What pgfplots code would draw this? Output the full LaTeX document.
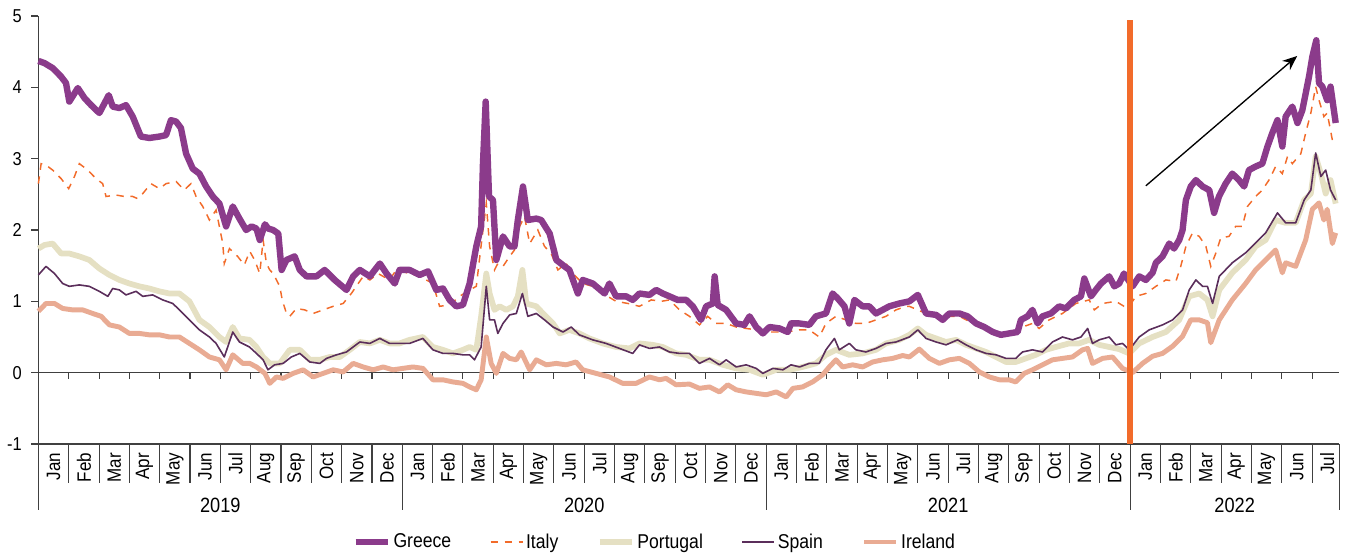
\documentclass[border=0pt]{standalone}
\usepackage{fontspec}
\setmainfont{Liberation Sans}[FakeStretch=0.88]
\usepackage{pgfplots}
\usepackage{pgfplotstable}
\pgfplotsset{compat=1.18}
\usetikzlibrary{arrows.meta}

\definecolor{greece}{HTML}{8B3B8B}
\definecolor{italy}{HTML}{F26B2A}
\definecolor{portugal}{HTML}{E5E0C3}
\definecolor{spain}{HTML}{5B2E5B}
\definecolor{ireland}{HTML}{E9AB93}
\definecolor{axisgray}{HTML}{404040}

% x = months since Jan 2019, y = spread
\pgfplotstableread{
x y
0.00 4.37
0.20 4.34
0.47 4.27
0.75 4.15
0.91 4.06
1.02 3.80
1.30 3.99
1.52 3.85
1.74 3.75
2.01 3.64
2.32 3.89
2.45 3.73
2.67 3.71
2.89 3.75
3.11 3.59
3.38 3.31
3.66 3.29
3.99 3.31
4.21 3.33
4.37 3.54
4.54 3.52
4.70 3.43
4.87 3.07
5.09 2.86
5.31 2.79
5.53 2.61
5.75 2.47
5.97 2.37
6.19 2.05
6.41 2.33
6.63 2.16
6.85 2.00
7.03 2.05
7.19 2.02
7.30 1.86
7.47 2.08
7.58 2.02
7.74 2.00
7.91 1.95
8.02 1.44
8.18 1.58
8.45 1.63
8.62 1.44
8.84 1.35
9.17 1.35
9.44 1.44
9.77 1.30
10.16 1.16
10.38 1.35
10.60 1.44
10.93 1.35
11.26 1.53
11.48 1.39
11.75 1.25
11.91 1.44
12.24 1.44
12.57 1.37
12.85 1.42
13.12 1.16
13.34 1.18
13.56 1.02
13.78 0.93
14.00 0.95
14.22 1.25
14.44 1.77
14.60 2.05
14.66 2.93
14.75 3.80
14.86 2.47
14.99 2.42
15.10 1.58
15.32 1.91
15.54 1.77
15.70 1.77
15.81 2.14
15.98 2.61
16.14 2.14
16.42 2.16
16.58 2.14
16.86 1.95
17.08 1.58
17.35 1.49
17.51 1.44
17.79 1.11
17.95 1.30
18.28 1.25
18.67 1.11
18.83 1.25
19.05 1.07
19.38 1.07
19.60 1.02
19.82 1.11
20.15 1.09
20.37 1.16
20.59 1.11
20.81 1.07
21.08 1.02
21.36 1.02
21.58 0.93
21.85 0.74
22.02 0.93
22.24 0.97
22.30 1.35
22.40 0.95
22.68 0.88
23.01 0.69
23.28 0.67
23.45 0.79
23.67 0.64
23.89 0.55
24.11 0.64
24.44 0.62
24.71 0.57
24.82 0.69
25.09 0.69
25.42 0.67
25.64 0.79
25.97 0.83
26.19 1.11
26.36 1.04
26.58 0.93
26.74 0.69
26.91 1.02
27.18 0.93
27.40 0.93
27.62 0.83
27.84 0.88
28.06 0.93
28.39 0.97
28.72 1.00
29.00 1.09
29.27 0.83
29.60 0.81
29.82 0.74
30.04 0.83
30.37 0.83
30.64 0.79
30.92 0.69
31.19 0.64
31.47 0.57
31.74 0.53
32.01 0.55
32.29 0.57
32.40 0.74
32.62 0.79
32.78 0.88
32.95 0.69
33.11 0.79
33.39 0.83
33.66 0.93
33.88 0.90
34.16 1.02
34.38 1.07
34.49 1.32
34.71 1.07
34.87 1.16
35.04 1.25
35.31 1.35
35.48 1.21
35.64 1.25
35.80 1.39
36.08 1.21
36.30 1.35
36.52 1.30
36.74 1.40
36.85 1.54
37.07 1.63
37.29 1.81
37.45 1.74
37.62 1.86
37.73 2.00
37.84 2.42
38.00 2.61
38.17 2.70
38.39 2.61
38.61 2.56
38.77 2.24
38.93 2.47
39.15 2.65
39.37 2.79
39.59 2.70
39.76 2.61
39.92 2.84
40.14 2.89
40.36 2.93
40.53 3.17
40.69 3.36
40.86 3.54
41.02 3.17
41.13 3.59
41.35 3.73
41.52 3.50
41.68 3.68
41.90 4.15
42.01 4.43
42.14 4.66
42.23 4.06
42.34 4.01
42.50 3.82
42.61 4.01
42.78 3.50
}\greecedata

\pgfplotstableread{
x y
0.00 2.65
0.09 2.93
0.25 2.91
0.47 2.84
0.75 2.72
1.00 2.58
1.19 2.75
1.35 2.93
1.63 2.84
1.90 2.72
2.12 2.65
2.23 2.47
2.56 2.49
2.84 2.47
3.11 2.47
3.27 2.44
3.44 2.51
3.71 2.65
3.99 2.58
4.21 2.65
4.54 2.68
4.81 2.56
5.03 2.65
5.20 2.47
5.42 2.33
5.64 2.14
5.86 2.28
6.08 1.81
6.13 1.53
6.30 1.74
6.57 1.63
6.79 1.51
6.97 1.70
7.13 1.58
7.30 1.39
7.41 1.86
7.52 1.53
7.63 1.44
7.74 1.39
7.96 1.21
8.04 1.02
8.18 0.83
8.29 0.79
8.51 0.90
8.78 0.88
9.06 0.83
9.39 0.88
9.72 0.93
10.05 0.97
10.32 1.11
10.71 1.35
10.93 1.30
11.20 1.39
11.58 1.30
11.80 1.44
12.24 1.39
12.57 1.35
13.01 1.25
13.23 0.93
13.56 0.95
13.89 1.07
14.22 1.16
14.44 1.21
14.66 2.00
14.77 2.37
14.88 1.77
15.04 1.44
15.15 1.53
15.32 1.49
15.54 1.63
15.70 1.72
15.87 2.05
16.03 2.19
16.20 1.81
16.47 2.00
16.69 1.77
16.91 1.67
17.13 1.44
17.40 1.53
17.62 1.39
17.95 1.25
18.28 1.21
18.61 1.11
19.05 1.00
19.44 0.97
19.82 0.93
20.21 1.02
20.54 1.00
20.81 1.02
21.14 0.88
21.47 0.79
21.80 0.67
22.07 0.79
22.35 0.69
22.68 0.69
23.01 0.64
23.34 0.62
23.67 0.60
24.00 0.57
24.33 0.57
24.66 0.57
25.09 0.60
25.42 0.60
25.75 0.50
25.97 0.69
26.30 0.79
26.63 0.74
26.96 0.69
27.29 0.69
27.62 0.74
27.95 0.79
28.28 0.88
28.61 0.93
28.72 0.93
29.27 0.83
29.82 0.79
30.37 0.79
30.92 0.67
31.47 0.57
32.01 0.53
32.45 0.64
32.78 0.69
33.00 0.62
33.33 0.74
33.77 0.83
34.21 0.97
34.65 1.02
34.82 0.88
35.09 0.97
35.53 1.00
35.80 0.93
35.97 0.93
36.19 1.07
36.52 1.11
36.85 1.21
37.18 1.30
37.51 1.28
37.67 1.49
37.84 1.77
38.06 1.96
38.28 1.91
38.50 1.77
38.66 1.49
38.83 1.68
38.99 1.89
39.26 1.91
39.48 2.05
39.70 2.05
39.87 2.33
40.14 2.47
40.36 2.56
40.58 2.70
40.80 2.89
41.02 2.79
41.19 3.03
41.35 2.93
41.63 3.07
41.79 3.36
41.96 3.64
42.12 4.01
42.23 3.82
42.39 3.59
42.50 3.64
42.67 3.26
42.78 3.22
}\italydata

\pgfplotstableread{
x y
0.00 1.74
0.20 1.79
0.47 1.81
0.75 1.67
1.02 1.67
1.35 1.63
1.68 1.58
2.01 1.46
2.34 1.37
2.67 1.30
3.00 1.25
3.33 1.21
3.66 1.18
3.99 1.14
4.32 1.11
4.65 1.11
4.98 1.00
5.31 0.74
5.64 0.64
5.97 0.50
6.19 0.43
6.41 0.64
6.63 0.48
6.96 0.46
7.19 0.36
7.41 0.22
7.63 0.13
7.96 0.13
8.29 0.32
8.62 0.32
8.95 0.18
9.28 0.18
9.61 0.22
9.94 0.22
10.27 0.32
10.60 0.43
10.93 0.41
11.26 0.46
11.58 0.41
11.91 0.41
12.24 0.46
12.68 0.50
13.01 0.36
13.34 0.32
13.67 0.27
14.00 0.32
14.22 0.36
14.44 0.32
14.60 0.79
14.77 1.39
14.88 1.11
15.04 0.88
15.21 0.93
15.43 0.88
15.65 0.93
15.81 1.07
15.96 1.44
16.09 0.97
16.42 0.93
16.64 0.83
16.97 0.69
17.19 0.55
17.51 0.60
17.84 0.55
18.17 0.48
18.61 0.41
19.05 0.36
19.49 0.34
19.82 0.41
20.26 0.39
20.59 0.36
21.03 0.27
21.36 0.25
21.80 0.18
22.13 0.18
22.57 0.11
23.01 0.06
23.45 0.04
23.89 -0.03
24.33 0.04
24.77 0.04
25.20 0.08
25.64 0.13
25.97 0.25
26.30 0.32
26.74 0.25
27.18 0.27
27.62 0.32
27.95 0.41
28.39 0.46
28.72 0.53
29.00 0.62
29.27 0.53
29.60 0.48
29.93 0.43
30.26 0.46
30.59 0.39
30.92 0.34
31.25 0.29
31.58 0.22
31.91 0.15
32.23 0.15
32.56 0.20
32.89 0.25
33.22 0.32
33.55 0.36
33.99 0.41
34.32 0.41
34.65 0.46
34.98 0.39
35.31 0.36
35.64 0.33
35.97 0.27
36.30 0.41
36.74 0.50
37.18 0.57
37.62 0.74
37.95 1.07
38.28 1.11
38.55 1.02
38.72 0.79
38.94 1.16
39.37 1.40
39.81 1.58
40.14 1.77
40.47 1.86
40.80 2.14
41.13 2.10
41.46 2.10
41.74 2.42
41.96 2.51
42.12 3.03
42.29 2.79
42.45 2.51
42.61 2.70
42.78 2.37
}\portugaldata

\pgfplotstableread{
x y
0.00 1.37
0.25 1.49
0.53 1.39
0.80 1.25
1.02 1.21
1.35 1.23
1.68 1.21
2.01 1.14
2.29 1.07
2.45 1.18
2.67 1.16
2.89 1.09
3.22 1.14
3.44 1.07
3.77 1.09
4.10 1.02
4.43 0.97
4.65 0.88
4.98 0.74
5.31 0.60
5.64 0.50
5.86 0.41
6.13 0.22
6.41 0.57
6.63 0.43
6.96 0.36
7.19 0.27
7.41 0.18
7.57 0.04
7.79 0.11
8.07 0.13
8.34 0.22
8.62 0.27
8.95 0.15
9.28 0.13
9.50 0.20
9.83 0.25
10.16 0.29
10.38 0.36
10.60 0.43
10.93 0.41
11.26 0.48
11.58 0.41
11.91 0.41
12.24 0.41
12.68 0.48
13.01 0.32
13.34 0.27
13.67 0.27
14.00 0.25
14.22 0.25
14.38 0.18
14.60 0.36
14.77 1.21
14.88 0.74
15.04 0.74
15.15 0.55
15.32 0.69
15.54 0.81
15.76 0.83
15.96 1.11
16.14 0.79
16.42 0.83
16.69 0.74
16.97 0.64
17.30 0.57
17.57 0.64
17.84 0.53
18.28 0.46
18.72 0.41
19.16 0.34
19.60 0.27
19.82 0.39
20.15 0.34
20.48 0.36
20.81 0.29
21.14 0.27
21.47 0.27
21.80 0.13
22.13 0.20
22.46 0.11
22.68 0.18
23.01 0.08
23.34 0.11
23.67 0.06
23.89 -0.01
24.22 0.06
24.55 0.04
24.82 0.11
25.10 0.08
25.42 0.13
25.75 0.13
25.97 0.32
26.25 0.48
26.41 0.32
26.74 0.41
26.96 0.32
27.29 0.29
27.62 0.34
27.95 0.41
28.28 0.43
28.72 0.50
29.00 0.60
29.27 0.48
29.60 0.43
29.93 0.39
30.31 0.46
30.59 0.39
30.92 0.32
31.25 0.27
31.58 0.25
31.91 0.20
32.23 0.20
32.45 0.29
32.78 0.32
33.11 0.29
33.44 0.43
33.77 0.50
34.10 0.46
34.38 0.50
34.60 0.62
34.76 0.41
34.98 0.46
35.31 0.50
35.53 0.39
35.75 0.41
35.97 0.32
36.30 0.50
36.63 0.60
37.07 0.67
37.40 0.74
37.73 0.88
37.95 1.16
38.17 1.30
38.39 1.21
38.55 1.21
38.72 0.97
38.94 1.35
39.37 1.54
39.81 1.68
40.14 1.82
40.47 1.96
40.86 2.24
41.13 2.10
41.46 2.10
41.74 2.42
41.96 2.56
42.12 3.08
42.29 2.75
42.45 2.84
42.61 2.56
42.78 2.42
}\spaindata

\pgfplotstableread{
x y
0.00 0.86
0.25 0.97
0.53 0.97
0.80 0.90
1.13 0.88
1.46 0.88
1.79 0.83
2.07 0.79
2.34 0.67
2.67 0.64
3.00 0.55
3.33 0.55
3.66 0.53
4.00 0.53
4.32 0.50
4.65 0.50
4.98 0.41
5.31 0.32
5.64 0.22
5.97 0.18
6.19 0.04
6.41 0.25
6.74 0.13
6.97 0.13
7.19 0.08
7.47 -0.01
7.63 -0.15
7.85 -0.06
8.07 -0.08
8.40 -0.01
8.73 0.04
9.06 -0.06
9.39 -0.01
9.72 0.04
10.05 0.01
10.38 0.13
10.71 0.08
11.04 0.04
11.37 0.08
11.69 0.04
12.02 0.06
12.35 0.08
12.68 0.06
13.01 -0.10
13.34 -0.10
13.67 -0.13
14.00 -0.15
14.22 -0.20
14.44 -0.24
14.60 -0.10
14.77 0.50
14.93 0.13
15.10 -0.01
15.32 0.27
15.54 0.20
15.76 0.18
15.92 0.29
16.20 0.04
16.42 0.18
16.75 0.11
17.08 0.13
17.40 0.11
17.73 0.15
17.95 0.04
18.39 -0.01
18.83 -0.06
19.27 -0.15
19.71 -0.15
20.15 -0.06
20.48 -0.10
20.70 -0.08
21.03 -0.17
21.47 -0.16
21.80 -0.22
22.13 -0.20
22.46 -0.27
22.73 -0.17
23.01 -0.24
23.34 -0.27
23.67 -0.29
24.00 -0.31
24.33 -0.27
24.66 -0.34
24.88 -0.22
25.20 -0.20
25.53 -0.13
25.86 -0.03
26.08 0.08
26.30 0.18
26.52 0.08
26.85 0.11
27.18 0.08
27.51 0.15
27.84 0.18
28.17 0.20
28.50 0.24
28.72 0.22
29.05 0.33
29.38 0.20
29.71 0.13
30.04 0.18
30.37 0.20
30.70 0.13
31.03 0.01
31.36 -0.06
31.69 -0.10
32.01 -0.10
32.23 -0.13
32.51 -0.01
32.78 0.04
33.11 0.11
33.44 0.18
33.77 0.20
34.10 0.22
34.43 0.32
34.60 0.34
34.76 0.13
35.09 0.20
35.42 0.22
35.75 0.06
36.08 0.00
36.41 0.13
36.74 0.23
37.07 0.27
37.40 0.37
37.73 0.51
38.00 0.74
38.28 0.74
38.55 0.70
38.66 0.42
38.94 0.74
39.37 1.02
39.81 1.25
40.14 1.44
40.47 1.58
40.80 1.72
41.02 1.40
41.13 1.54
41.46 1.49
41.79 1.86
42.01 2.29
42.23 2.38
42.39 2.14
42.50 2.29
42.67 1.81
42.78 1.96
}\irelanddata

\begin{document}
\begin{tikzpicture}
\path[use as bounding box] (-28.8pt,-84pt) rectangle (982.95pt,333pt);
\begin{axis}[
    at={(0,0)}, anchor=south west,
    scale only axis, width=975.7pt, height=321pt,
    xmin=0, xmax=42.9, ymin=-1, ymax=5,
    clip=false,
    axis x line=bottom, axis y line=left,
    axis line style={axisgray, line width=1pt, -},
    ytick={-1,0,1,2,3,4,5},
    yticklabels={-1,0,1,2,3,4,5},
    xtick={0.5,1.5,...,42.5},
    xticklabels={Jan,Feb,Mar,Apr,May,Jun,Jul,Aug,Sep,Oct,Nov,Dec,
                 Jan,Feb,Mar,Apr,May,Jun,Jul,Aug,Sep,Oct,Nov,Dec,
                 Jan,Feb,Mar,Apr,May,Jun,Jul,Aug,Sep,Oct,Nov,Dec,
                 Jan,Feb,Mar,Apr,May,Jun,Jul},
    minor xtick={0,1,...,42,42.9},
    tick align=outside,
    major tick length=5.5pt,
    minor tick length=29pt,
    major x tick style={draw=none},
    minor x tick style={axisgray, line width=0.8pt},
    ytick style={axisgray, line width=0.8pt},
    xticklabel style={rotate=90, anchor=east, inner sep=1pt,
                      font=\fontsize{14.5}{14.5}\selectfont, text=black},
    yticklabel style={font=\fontsize{14}{14}\selectfont, text=black, xshift=-3.5pt},
    legend style={at={(0.474,-0.229)}, anchor=center, draw=none,
                  font=\fontsize{15}{15}\selectfont,
                  /tikz/every even column/.append style={column sep=27pt}},
    legend columns=-1,
    legend cell align=left,
    legend image code/.code={\draw[#1] (0pt,0pt) -- (24pt,0pt);},
]
% zero line with month ticks
\addplot[forget plot, axisgray, line width=1pt] coordinates {(0,0) (42.9,0)};
\pgfplotsinvokeforeach{0,1,...,42}{
  \draw[axisgray, line width=0.8pt] (axis cs:#1,0) -- ++(0pt,-5pt);
}

\addplot[forget plot, portugal, line width=4.3pt, line join=round] table {\portugaldata};
\addplot[forget plot, ireland, line width=3.7pt, line join=round] table {\irelanddata};
\addplot[forget plot, spain, line width=1.2pt, line join=round] table {\spaindata};
\addplot[forget plot, italy, line width=1.1pt, dash pattern=on 5.5pt off 5pt] table {\italydata};
\addplot[forget plot, greece, line width=4.8pt, line join=round] table {\greecedata};

% 2022 marker and trend arrow
\addplot[forget plot, italy, line width=4.3pt] coordinates {(36,-1) (36,4.94)};
\addplot[forget plot, black, line width=1pt, -{Stealth[length=11pt, width=9pt]}]
  coordinates {(36.52,2.62) (41.51,4.44)};

% year separators and labels
\pgfplotsinvokeforeach{0,12,24,36,42.9}{
  \draw[axisgray, line width=0.8pt] (axis cs:#1,-1) -- ++(0pt,-49.5pt);
}
\node[font=\fontsize{15.5}{15.5}\selectfont] at ([yshift=-46pt]axis cs:6,-1) {2019};
\node[font=\fontsize{15.5}{15.5}\selectfont] at ([yshift=-46pt]axis cs:18,-1) {2020};
\node[font=\fontsize{15.5}{15.5}\selectfont] at ([yshift=-46pt]axis cs:30,-1) {2021};
\node[font=\fontsize{15.5}{15.5}\selectfont] at ([yshift=-46pt]axis cs:39.45,-1) {2022};

\addlegendimage{greece, line width=4.8pt}
\addlegendentry{Greece}
\addlegendimage{italy, line width=1.1pt, dash pattern=on 5.5pt off 5pt}
\addlegendentry{Italy}
\addlegendimage{portugal, line width=4.3pt}
\addlegendentry{Portugal}
\addlegendimage{spain, line width=1.2pt}
\addlegendentry{Spain}
\addlegendimage{ireland, line width=3.7pt}
\addlegendentry{Ireland}
\end{axis}
\end{tikzpicture}
\end{document}
